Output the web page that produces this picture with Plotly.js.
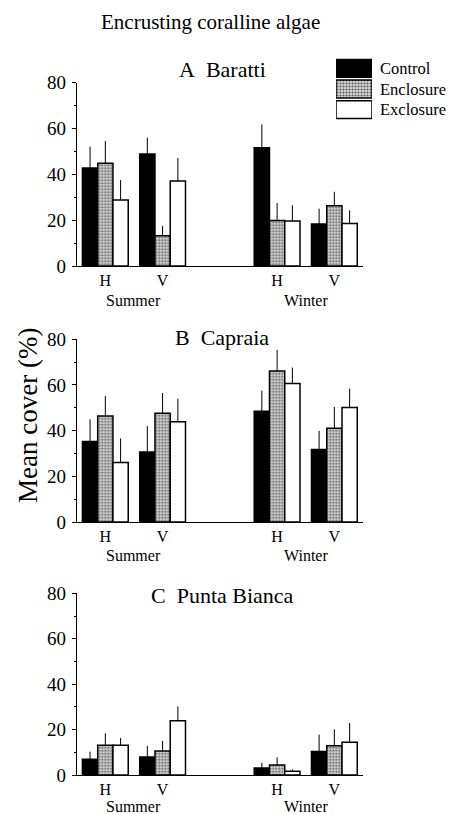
<!DOCTYPE html>
<html>
<head>
<meta charset="utf-8">
<script src="https://cdn.plot.ly/plotly-3.0.1.min.js"></script>
<style>html,body{margin:0;padding:0;background:#fff;}#chart{width:450px;height:814px;}</style>
</head>
<body>
<div id="chart"></div>
<script>
// ---- Data ----
const categories = ['Summer H', 'Summer V', 'Winter H', 'Winter V'];
const tickLabels = ['H', 'V', 'H', 'V'];
const seasons = ['Summer', 'Winter'];
const treatments = ['Control', 'Enclosure', 'Exclosure'];
const sites = ['A\u00a0\u00a0Baratti', 'B\u00a0\u00a0Capraia', 'C\u00a0\u00a0Punta Bianca'];

// Panel A: Baratti (mean cover %, and SE)
const barattiControl = [42.8, 48.9, 51.6, 18.3];
const barattiControlSE = [9.3, 7.1, 10.2, 6.7];
const barattiEnclosure = [44.8, 13.2, 19.9, 26.3];
const barattiEnclosureSE = [9.7, 4.3, 7.6, 6.1];
const barattiExclosure = [28.8, 37.1, 19.6, 18.5];
const barattiExclosureSE = [8.7, 10.0, 6.9, 5.8];

// Panel B: Capraia
const capraiaControl = [35.2, 30.7, 48.5, 31.7];
const capraiaControlSE = [9.8, 11.3, 9.0, 8.2];
const capraiaEnclosure = [46.4, 47.6, 66.1, 41.0];
const capraiaEnclosureSE = [8.8, 8.9, 9.2, 9.4];
const capraiaExclosure = [26.1, 43.9, 60.6, 50.1];
const capraiaExclosureSE = [10.5, 10.1, 7.0, 8.3];

// Panel C: Punta Bianca
const puntaControl = [6.9, 7.9, 3.1, 10.4];
const puntaControlSE = [3.4, 4.9, 2.3, 7.4];
const puntaEnclosure = [13.1, 10.6, 4.4, 12.9];
const puntaEnclosureSE = [5.3, 4.4, 3.4, 7.2];
const puntaExclosure = [13.1, 23.9, 1.6, 14.4];
const puntaExclosureSE = [3.2, 6.3, 0.9, 8.5];

const yTicks = [0, 20, 40, 60, 80];
const legendSwatch = [1, 1, 1];

// ---- Build ----
const W = 450, H = 814;
const px = v => v / W;
const py = v => 1 - v / H;
const serif = '"Times New Roman", "Liberation Serif", "DejaVu Serif", serif';

const panels = [
  {mean: [barattiControl, barattiEnclosure, barattiExclosure], se: [barattiControlSE, barattiEnclosureSE, barattiExclosureSE], top: 82.7, bottom: 266, titleY: 70, seasonShift: -34},
  {mean: [capraiaControl, capraiaEnclosure, capraiaExclosure], se: [capraiaControlSE, capraiaEnclosureSE, capraiaExclosureSE], top: 339.3, bottom: 522, titleY: 337, seasonShift: -33},
  {mean: [puntaControl, puntaEnclosure, puntaExclosure], se: [puntaControlSE, puntaEnclosureSE, puntaExclosureSE], top: 593.3, bottom: 775, titleY: 595, seasonShift: -31.5}
];

const dotPattern = {shape: '.', fgcolor: '#555555', bgcolor: '#dadada', size: 3, solidity: 0.4};
const styles = [
  {color: '#000000', pattern: null},
  {color: '#dadada', pattern: dotPattern},
  {color: '#ffffff', pattern: null}
];

const xDomain = [px(76.7), px(363)];
const catOrder = [categories[0], categories[1], ' ', categories[2], categories[3]];

const traces = [];
const layout = {
  width: W, height: H,
  margin: {l: 0, r: 0, t: 0, b: 0},
  paper_bgcolor: '#fff', plot_bgcolor: 'rgba(0,0,0,0)',
  showlegend: false,
  barmode: 'group', bargap: 0.2, bargroupgap: 0,
  font: {family: serif, color: '#000'},
  annotations: [],
  shapes: []
};

function markerFor(j) {
  const m = {color: styles[j].color, line: {color: '#000', width: 1.5}};
  if (styles[j].pattern) m.pattern = styles[j].pattern;
  return m;
}

panels.forEach((p, i) => {
  const n = i + 1;
  const xa = n === 1 ? 'x' : 'x' + n;
  const ya = n === 1 ? 'y' : 'y' + n;
  treatments.forEach((t, j) => {
    traces.push({
      type: 'bar', name: t, x: categories, y: p.mean[j],
      xaxis: xa, yaxis: ya,
      marker: markerFor(j),
      error_y: {type: 'data', symmetric: false, array: p.se[j], arrayminus: p.se[j].map(() => 0),
                color: '#000', thickness: 1, width: 0},
      hoverinfo: 'skip'
    });
  });
  layout['xaxis' + (n === 1 ? '' : n)] = {
    domain: xDomain, anchor: ya, type: 'category',
    categoryorder: 'array', categoryarray: catOrder,
    range: [-0.5, 4.5],
    tickmode: 'array', tickvals: categories, ticktext: tickLabels,
    ticks: '', showline: true, linecolor: '#000', linewidth: 1,
    showgrid: false, zeroline: false, fixedrange: true,
    tickfont: {family: serif, size: 16, color: '#000'}
  };
  layout['yaxis' + (n === 1 ? '' : n)] = {
    domain: [py(p.bottom), py(p.top)], anchor: xa,
    range: [0, 80], tickmode: 'array', tickvals: yTicks,
    ticks: 'outside', ticklen: 4, tickwidth: 1, tickcolor: '#000',
    minor: {dtick: 10, ticks: 'outside', ticklen: 2, tickwidth: 1, tickcolor: '#000', showgrid: false},
    showline: true, linecolor: '#000', linewidth: 1,
    showgrid: false, zeroline: false, fixedrange: true,
    ticklabelstandoff: 2,
    tickfont: {family: serif, size: 19, color: '#000'}
  };
  layout.annotations.push({
    text: sites[i], xref: 'paper', yref: 'paper', x: px(222), y: py(p.titleY),
    xanchor: 'center', yanchor: 'middle', showarrow: false,
    font: {family: serif, size: 22, color: '#000'}
  });
  seasons.forEach((s, k) => {
    layout.annotations.push({
      text: s, xref: xa, yref: ya + ' domain', x: k === 0 ? 0.5 : 3.5, y: 0, yshift: p.seasonShift,
      xanchor: 'center', yanchor: 'middle', showarrow: false,
      font: {family: serif, size: 16, color: '#000'}
    });
  });
});

// Legend drawn as a small bar subplot (one bar per treatment)
treatments.forEach((t, j) => {
  traces.push({
    type: 'bar', orientation: 'h', name: t, x: [legendSwatch[j]], y: [t],
    xaxis: 'x4', yaxis: 'y4', width: 0.86, offsetgroup: 'legend',
    marker: markerFor(j),
    hoverinfo: 'skip'
  });
});
layout.xaxis4 = {domain: [px(336), px(372)], anchor: 'y4', range: [0, 1], visible: false, fixedrange: true};
layout.yaxis4 = {domain: [py(120), py(58)], anchor: 'x4', type: 'category',
  categoryorder: 'array', categoryarray: treatments.slice().reverse(),
  side: 'right', ticks: '', showline: false, showgrid: false, zeroline: false,
  ticklabelstandoff: 7, fixedrange: true,
  tickfont: {family: serif, size: 16.5, color: '#000'}};

// Titles
layout.annotations.push({
  text: 'Encrusting coralline algae', xref: 'paper', yref: 'paper', x: px(210), y: py(22),
  xanchor: 'center', yanchor: 'middle', showarrow: false,
  font: {family: serif, size: 21, color: '#000'}
});
layout.annotations.push({
  text: 'Mean cover (%)', xref: 'paper', yref: 'paper', x: px(28), y: py(416),
  xanchor: 'center', yanchor: 'middle', showarrow: false, textangle: -90,
  font: {family: serif, size: 27, color: '#000'}
});

Plotly.newPlot('chart', traces, layout, {staticPlot: true, displayModeBar: false});
</script>
</body>
</html>
